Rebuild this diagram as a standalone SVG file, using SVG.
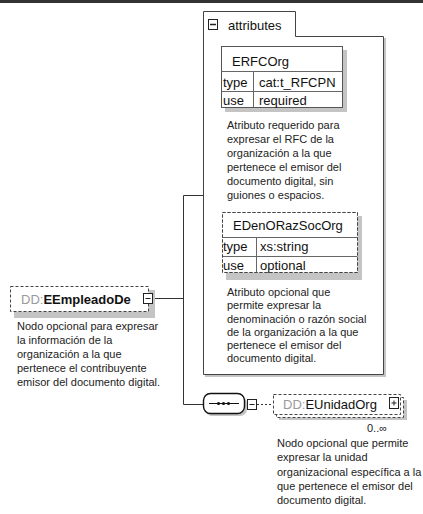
<svg xmlns="http://www.w3.org/2000/svg" width="423" height="514" viewBox="0 0 423 514">
<style>
.t{font-family:"Liberation Sans",Arial,sans-serif;fill:#111}
.d{font-family:"Liberation Sans",Arial,sans-serif;font-size:11px;fill:#222}
.h{font-size:13px}
.pre{fill:#9a9a9a}
.ln{stroke:#333;stroke-width:1;fill:none}
.grid{stroke:#666;stroke-width:1;fill:none}
.shadow{fill:#c4c4c4}
.icon{fill:#fff;stroke:#222;stroke-width:1}
.dash{stroke:#444;stroke-width:1;stroke-dasharray:3,2;fill:#fff}
</style>
<rect x="0" y="0" width="423" height="3" fill="#333"/>
<g id="connectors">
<path class="ln" d="M153,298.5 H183.5 M183.5,195.5 V404.5 M183.5,195.5 H203 M183.5,404.5 H203"/>
<path class="ln" d="M257,404.5 H273" stroke-dasharray="2,2"/>
</g>
<g id="attributes">
<path d="M205,376 H385 V38" fill="none" stroke="#c4c4c4" stroke-width="2"/>
<path d="M203.5,374.5 V11.5 H295.5 V36.5 H383.5 V374.5 Z" fill="#fff" stroke="#444" stroke-width="1"/>
<rect class="icon" x="208.5" y="19.5" width="9" height="10" stroke-width="1.5"/>
<line x1="210" y1="24.5" x2="216" y2="24.5" stroke="#222" stroke-width="1.5"/>
<text class="t h" x="228" y="30">attributes</text>
</g>
<g id="ERFCOrg">
<rect class="shadow" x="225" y="50" width="122" height="62"/>
<rect x="221.5" y="46.5" width="121" height="61" fill="#fff" stroke="#555"/>
<path class="grid" d="M221.5,71.5 H342.5 M221.5,91.5 H342.5 M253.5,71.5 V107.5"/>
<text class="t h" x="232" y="66">ERFCOrg</text>
<text class="t h" x="223" y="86.5">type</text>
<text class="t h" x="259" y="86.5">cat:t_RFCPN</text>
<text class="t h" x="223" y="105">use</text>
<text class="t h" x="259" y="105">required</text>
<text class="d" x="227" y="129">Atributo requerido para</text>
<text class="d" x="227" y="143">expresar el RFC de la</text>
<text class="d" x="227" y="157">organización a la que</text>
<text class="d" x="227" y="171">pertenece el  emisor del</text>
<text class="d" x="227" y="185">documento digital, sin</text>
<text class="d" x="227" y="199">guiones o espacios.</text>
</g>
<g id="EDenORazSocOrg">
<rect class="shadow" x="226" y="216" width="136" height="64"/>
<rect class="dash" x="222.5" y="212.5" width="135" height="60"/>
<path class="grid" d="M222.5,237.5 H357.5 M222.5,256.5 H357.5 M256.5,237.5 V272.5"/>
<rect x="222.5" y="212.5" width="135" height="60" fill="none" stroke="#444" stroke-dasharray="3,2"/>
<text class="t h" x="233" y="230">EDenORazSocOrg</text>
<text class="t h" x="223" y="250.5">type</text>
<text class="t h" x="260" y="250.5">xs:string</text>
<text class="t h" x="223" y="269.5">use</text>
<text class="t h" x="260" y="269.5">optional</text>
<text class="d" x="227" y="296">Atributo opcional que</text>
<text class="d" x="227" y="309">permite expresar la</text>
<text class="d" x="227" y="322.5">denominación o razón social</text>
<text class="d" x="227" y="336">de la organización a la que</text>
<text class="d" x="227" y="349">pertenece el emisor del</text>
<text class="d" x="227" y="362">documento digital.</text>
</g>
<g id="EEmpleadoDe">
<rect class="shadow" x="14" y="290" width="141" height="28"/>
<rect class="dash" x="10.5" y="286.5" width="138" height="25"/>
<text class="t h" x="21" y="303.5"><tspan class="pre">DD:</tspan><tspan font-weight="bold">EEmpleadoDe</tspan></text>
<rect class="icon" x="143.5" y="293.5" width="9" height="10"/>
<line x1="145.5" y1="298.5" x2="150.5" y2="298.5" stroke="#222"/>
<text class="d" x="17" y="330">Nodo opcional para expresar</text>
<text class="d" x="17" y="344">la información de la</text>
<text class="d" x="17" y="357.5">organización a la que</text>
<text class="d" x="17" y="371.5">pertenece el contribuyente</text>
<text class="d" x="17" y="385.5">emisor del documento digital.</text>
</g>
<g id="sequence">
<rect class="shadow" x="205" y="396" width="42" height="20" rx="7"/>
<rect x="203.5" y="393.5" width="41" height="20" rx="7" fill="#fff" stroke="#111" stroke-width="1.4"/>
<line x1="209" y1="403.5" x2="239" y2="403.5" stroke="#111"/>
<circle cx="218.5" cy="403.5" r="1.6" fill="#111"/>
<circle cx="223.5" cy="403.5" r="1.6" fill="#111"/>
<circle cx="228.5" cy="403.5" r="1.6" fill="#111"/>
<rect class="icon" x="247.5" y="399.5" width="9" height="10"/>
<line x1="249.5" y1="404.5" x2="254.5" y2="404.5" stroke="#222"/>
</g>
<g id="EUnidadOrg">
<rect class="shadow" x="279" y="400" width="128" height="20"/>
<rect class="dash" x="276.5" y="397.5" width="127" height="20"/>
<rect class="dash" x="273.5" y="394.5" width="127" height="20"/>
<text class="t h" x="283" y="409"><tspan class="pre">DD:</tspan>EUnidadOrg</text>
<rect class="icon" x="389.5" y="397.5" width="9" height="11"/>
<line x1="391.5" y1="403" x2="396.5" y2="403" stroke="#222"/>
<line x1="394" y1="400.5" x2="394" y2="405.5" stroke="#222"/>
<text class="d" x="367" y="432">0..∞</text>
<text class="d" x="277" y="447">Nodo opcional que permite</text>
<text class="d" x="277" y="461">expresar la unidad</text>
<text class="d" x="277" y="475.5">organizacional específica a la</text>
<text class="d" x="277" y="490">que pertenece el emisor del</text>
<text class="d" x="277" y="504">documento digital.</text>
</g>
</svg>
